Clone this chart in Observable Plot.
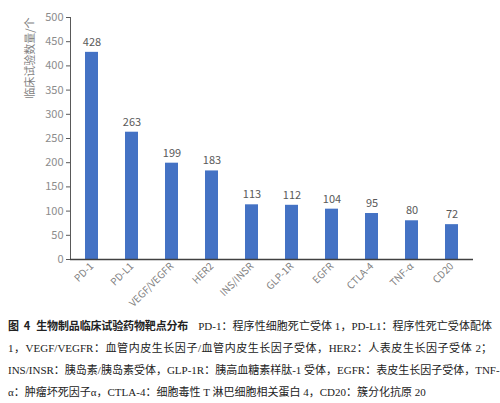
<!DOCTYPE html>
<html>
<head>
<meta charset="utf-8">
<script src="https://cdn.jsdelivr.net/npm/d3@7"></script>
<script src="https://cdn.jsdelivr.net/npm/@observablehq/plot@0.6"></script>
<style>
  body { margin: 0; background: #fff; }
  #graph { width: 500px; height: 316px; }
  .caption {
    position: relative;
    width: 484px;
    margin: -2px 0 0 8px;
    font-family: "Liberation Serif", "Noto Sans CJK SC", serif;
    font-size: 11px;
    line-height: 22px;
    color: #222;
    background: transparent;
  }
  .caption div { text-align: justify; text-align-last: justify; white-space: nowrap; }
  .caption div.last { text-align-last: left; }
  .caption b { font-family: "Noto Sans CJK SC", sans-serif; font-weight: 700; margin-right: 10px; letter-spacing: -0.2px; }
  .caption b span { margin: 0 6px 0 5px; }
</style>
</head>
<body>
<div id="graph"></div>
<div class="caption">
  <div><b>图<span>4</span>生物制品临床试验药物靶点分布</b>PD-1：程序性细胞死亡受体 1，PD-L1：程序性死亡受体配体</div>
  <div>1，VEGF/VEGFR：血管内皮生长因子/血管内皮生长因子受体，HER2：人表皮生长因子受体 2；</div>
  <div>INS/INSR：胰岛素/胰岛素受体，GLP-1R：胰高血糖素样肽-1 受体，EGFR：表皮生长因子受体，TNF-</div>
  <div class="last">α：肿瘤坏死因子α，CTLA-4：细胞毒性 T 淋巴细胞相关蛋白 4，CD20：簇分化抗原 20</div>
</div>
<script>
const targets = ["PD-1", "PD-L1", "VEGF/VEGFR", "HER2", "INS/INSR", "GLP-1R", "EGFR", "CTLA-4", "TNF-α", "CD20"];
const counts = [428, 263, 199, 183, 113, 112, 104, 95, 80, 72];
const yTicks = [0, 50, 100, 150, 200, 250, 300, 350, 400, 450, 500];
const yLabel = "临床试验数量/个";

const data = targets.map((t, i) => ({target: t, count: counts[i]}));

const plot = Plot.plot({
  width: 500,
  height: 316,
  marginLeft: 70,
  marginRight: 27,
  marginTop: 17,
  marginBottom: 57,
  style: {fontFamily: "'Noto Sans CJK SC', sans-serif", fontSize: "11px", color: "#7f7f7f", background: "#fff"},
  x: {domain: targets, paddingInner: 0.68, paddingOuter: 0.34, label: null},
  y: {domain: [0, 500], label: null},
  marks: [
    Plot.barY(data, {x: "target", y: "count", fill: "#4472C4"}),
    Plot.text(data, {x: "target", y: "count", text: d => String(d.count), dy: -10, fill: "#595959", fontSize: 11}),
    Plot.axisY({ticks: yTicks, tickSize: 4, tickPadding: 3, stroke: "#595959", fill: "#8c8c8c", fontSize: 11}),
    Plot.axisX({tickSize: 0, tickRotate: -45, tickPadding: 5, fill: "#7f7f7f", fontSize: 10}),
    Plot.frame({anchor: "left", stroke: "#595959"}),
    Plot.ruleY([0], {stroke: "#404040", strokeWidth: 1.5}),
    // axis title drawn at the top of the y axis, rotated
    Plot.text([yLabel], {frameAnchor: "top-left", dx: -40, rotate: -90, textAnchor: "end", lineAnchor: "middle", fill: "#7f7f7f", fontSize: 11})
  ]
});

d3.select("#graph").append(() => plot);
</script>
</body>
</html>
